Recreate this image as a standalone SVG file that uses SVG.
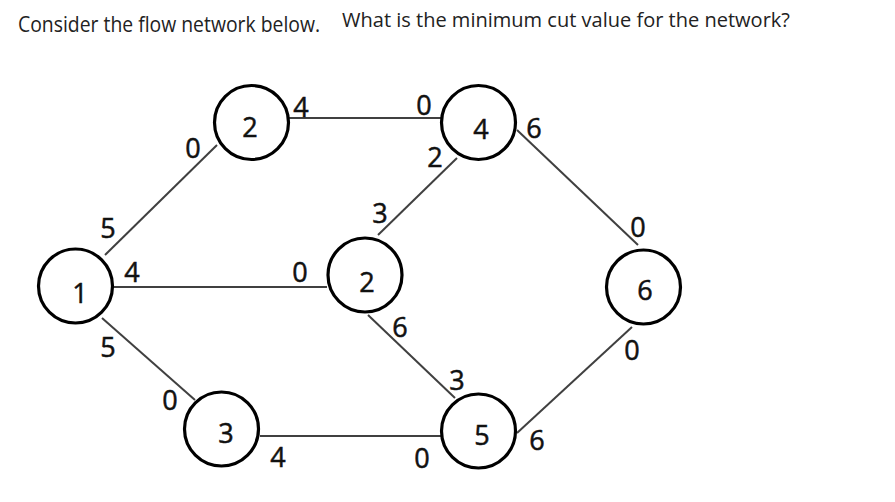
<svg xmlns="http://www.w3.org/2000/svg" width="895" height="502" viewBox="0 0 895 502">
<style>
.title{font-family:"Open Sans","Liberation Sans",sans-serif;fill:#222}
.lbl{font-family:"Open Sans","Liberation Sans",sans-serif;font-size:27px;fill:#111;stroke:#111;stroke-width:0.5;text-anchor:middle}
.node circle{fill:#fff;stroke:#000;stroke-width:3.2}
#edges line{stroke:#404040;stroke-width:2}
</style>
<rect width="895" height="502" fill="#fff"/>
<text class="title" x="18" y="32" font-size="21" textLength="302" lengthAdjust="spacingAndGlyphs">Consider the flow network below.</text>
<text class="title" x="342" y="27" font-size="20.5" textLength="448" lengthAdjust="spacingAndGlyphs">What is the minimum cut value for the network?</text>
<g id="edges">
<line x1="105" y1="255" x2="217" y2="145"/>
<line x1="288" y1="118" x2="442" y2="118"/>
<line x1="113" y1="287" x2="327" y2="287"/>
<line x1="102" y1="318" x2="195" y2="400"/>
<line x1="260" y1="436" x2="442" y2="436"/>
<line x1="378" y1="235" x2="457" y2="158"/>
<line x1="368" y1="315" x2="455" y2="398"/>
<line x1="517" y1="130" x2="638" y2="245"/>
<line x1="517" y1="433" x2="632" y2="327"/>
</g>
<g id="edge-labels">
<text class="lbl" x="193" y="158">0</text>
<text class="lbl" x="108" y="238">5</text>
<text class="lbl" x="301" y="117">4</text>
<text class="lbl" x="424" y="115">0</text>
<text class="lbl" x="534" y="138">6</text>
<text class="lbl" x="435" y="167">2</text>
<text class="lbl" x="380" y="223">3</text>
<text class="lbl" x="638" y="237">0</text>
<text class="lbl" x="132" y="282">4</text>
<text class="lbl" x="300" y="282">0</text>
<text class="lbl" x="108" y="357">5</text>
<text class="lbl" x="170" y="410">0</text>
<text class="lbl" x="278" y="467">4</text>
<text class="lbl" x="400" y="337">6</text>
<text class="lbl" x="457" y="390">3</text>
<text class="lbl" x="537" y="450">6</text>
<text class="lbl" x="422" y="468">0</text>
<text class="lbl" x="632" y="360">0</text>
</g>
<g id="n1" class="node"><circle cx="75.5" cy="286" r="37"/><text class="lbl" x="80" y="303">1</text></g>
<g id="n2" class="node"><circle cx="251.5" cy="122.5" r="37"/><text class="lbl" x="250" y="137">2</text></g>
<g id="n3" class="node"><circle cx="221.5" cy="429" r="37"/><text class="lbl" x="226" y="443">3</text></g>
<g id="n4" class="node"><circle cx="478.5" cy="122.5" r="37"/><text class="lbl" x="481" y="139">4</text></g>
<g id="n2b" class="node"><circle cx="365" cy="275" r="37"/><text class="lbl" x="367" y="292">2</text></g>
<g id="n5" class="node"><circle cx="478.5" cy="431" r="37"/><text class="lbl" x="482" y="445">5</text></g>
<g id="n6" class="node"><circle cx="643.5" cy="287" r="37"/><text class="lbl" x="645" y="300">6</text></g>
</svg>
